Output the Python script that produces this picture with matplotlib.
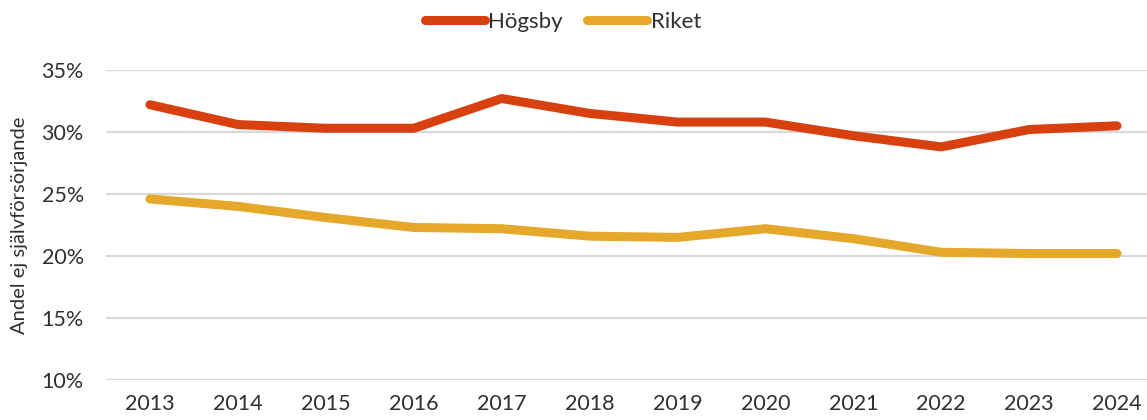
import matplotlib
matplotlib.use("Agg")
import matplotlib.pyplot as plt
from matplotlib import font_manager
from matplotlib.ticker import FuncFormatter, MultipleLocator

years = ["2013", "2014", "2015", "2016", "2017", "2018",
         "2019", "2020", "2021", "2022", "2023", "2024"]
hogsby = [32.2, 30.6, 30.3, 30.3, 32.7, 31.5, 30.8, 30.8, 29.7, 28.8, 30.2, 30.5]
riket = [24.6, 24.0, 23.1, 22.3, 22.2, 21.6, 21.5, 22.2, 21.4, 20.3, 20.2, 20.2]

names = {f.name for f in font_manager.fontManager.ttflist}
family = "Lato" if "Lato" in names else "DejaVu Sans"
plt.rcParams["font.family"] = [family, "DejaVu Sans"]

text_color = "#303030"

fig = plt.figure(figsize=(11.47, 4.2), dpi=100)
ax = fig.add_axes([106 / 1147, 40 / 420, 1055 / 1147, 310 / 420])

x = list(range(len(years)))
ax.plot(x, hogsby, color="#D84010", lw=6.5, solid_capstyle="round",
        solid_joinstyle="round", label="Högsby", zorder=3)
ax.plot(x, riket, color="#E5A82A", lw=6.5, solid_capstyle="round",
        solid_joinstyle="round", label="Riket", zorder=3)

ax.set_xlim(-0.5, len(years) - 0.5)
ax.set_ylim(10, 35)
ax.yaxis.set_major_locator(MultipleLocator(5))
ax.yaxis.set_major_formatter(FuncFormatter(lambda v, p: f"{v:.0f}%"))
ax.set_xticks(x)
ax.set_xticklabels(years)
ax.grid(axis="y", color="#D9D9D9", lw=1.6, zorder=0)
ax.set_axisbelow(True)
for s in ax.spines.values():
    s.set_visible(False)
ax.tick_params(axis="both", length=0, labelsize=15.5, colors=text_color)
ax.tick_params(axis="x", pad=10)
ax.tick_params(axis="y", pad=16)
ax.set_ylabel("Andel ej självförsörjande", fontsize=14.5, color=text_color)
ax.yaxis.set_label_coords(-78 / 1055, 0.5)

leg = fig.legend(loc="center", bbox_to_anchor=(563 / 1147, 1 - 22 / 420), ncol=2,
                 frameon=False, fontsize=16, handlelength=2.7, handletextpad=0.15,
                 columnspacing=1.1)
for t in leg.get_texts():
    t.set_color(text_color)

fig.savefig("out.png", dpi=100)
